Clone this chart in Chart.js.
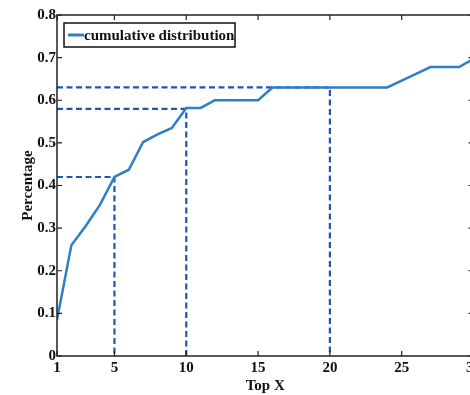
<!DOCTYPE html>
<html>
<head>
<meta charset="utf-8">
<script src="https://cdn.jsdelivr.net/npm/chart.js@4/dist/chart.umd.min.js"></script>
<style>
  html, body { margin: 0; padding: 0; background: #fff; overflow: hidden; }
  #wrap { width: 484px; height: 395px; }
</style>
</head>
<body>
<div id="wrap"><canvas id="cdfChart" width="484" height="395"></canvas></div>
<script>
// top-X positions and cumulative share
var topX = [1, 2, 3, 4, 5, 6, 7, 8, 9, 10, 11, 12, 13, 14, 15, 16, 17, 18, 19, 20,
    21, 22, 23, 24, 25, 26, 27, 28, 29, 30];
var cumulative = [0.085, 0.26, 0.305, 0.355, 0.42, 0.437, 0.502, 0.52, 0.535, 0.582,
    0.582, 0.60, 0.60, 0.60, 0.60, 0.63, 0.63, 0.63, 0.63, 0.63,
    0.63, 0.63, 0.63, 0.63, 0.646, 0.662, 0.678, 0.678, 0.678, 0.697];
// dashed guide markers: x position and the value at it
var markerX = [5, 10, 20];
var markerY = [0.42, 0.58, 0.63];
var xTicks = [1, 5, 10, 15, 20, 25, 30];
var yTicks = [0, 0.1, 0.2, 0.3, 0.4, 0.5, 0.6, 0.7, 0.8];

var serif = "'Liberation Serif', 'Times New Roman', serif";
var lineBlue = '#2f7fc7';
var dashBlue = '#2554b0';

var datasets = [{
    label: 'cumulative distribution',
    data: topX.map(function (x, i) { return { x: x, y: cumulative[i] }; }),
    borderColor: lineBlue,
    borderWidth: 2.5,
    pointRadius: 0,
    tension: 0,
    fill: false,
    order: 0
}];
markerX.forEach(function (mx, i) {
    datasets.push({
        label: 'guide' + i,
        data: [{ x: topX[0], y: markerY[i] }, { x: mx, y: markerY[i] }, { x: mx, y: 0 }],
        borderColor: dashBlue,
        borderWidth: 2.2,
        borderDash: [6, 3.5],
        pointRadius: 0,
        tension: 0,
        fill: false,
        order: 1
    });
});

// box, inward ticks and the boxed legend, MATLAB style
var frame = {
    id: 'frame',
    afterDatasetsDraw: function (chart) {
        var c = chart.ctx, a = chart.chartArea;
        var xs = chart.scales.x, ys = chart.scales.y;
        c.save();
        c.strokeStyle = '#222';
        c.lineWidth = 1.5;
        c.strokeRect(a.left, a.top, a.right - a.left, a.bottom - a.top);
        c.lineWidth = 1.2;
        c.beginPath();
        xTicks.forEach(function (v) {
            var px = xs.getPixelForValue(v);
            c.moveTo(px, a.bottom); c.lineTo(px, a.bottom - 5);
            c.moveTo(px, a.top); c.lineTo(px, a.top + 5);
        });
        yTicks.forEach(function (v) {
            var py = ys.getPixelForValue(v);
            c.moveTo(a.left, py); c.lineTo(a.left + 5, py);
            c.moveTo(a.right, py); c.lineTo(a.right - 5, py);
        });
        c.stroke();

        // legend
        var lx = a.left + 7, ly = a.top + 8, lw = 171, lh = 24;
        c.fillStyle = '#fff';
        c.fillRect(lx, ly, lw, lh);
        c.strokeStyle = '#111';
        c.lineWidth = 1.5;
        c.strokeRect(lx, ly, lw, lh);
        c.strokeStyle = lineBlue;
        c.lineWidth = 3;
        c.beginPath();
        c.moveTo(lx + 4, ly + lh / 2);
        c.lineTo(lx + 20, ly + lh / 2);
        c.stroke();
        c.fillStyle = '#111';
        c.font = 'bold 15px ' + serif;
        c.textBaseline = 'middle';
        c.fillText(chart.data.datasets[0].label, lx + 20, ly + lh / 2 + 1);
        c.restore();
    }
};

var ctx = document.getElementById('cdfChart').getContext('2d');
var cdfChart = new Chart(ctx, {
    type: 'line',
    data: { datasets: datasets },
    options: {
        responsive: false,
        animation: false,
        layout: { padding: { top: 15, right: 8, left: 0, bottom: 0 } },
        scales: {
            x: {
                type: 'linear',
                min: 1,
                max: 30,
                afterBuildTicks: function (scale) {
                    scale.ticks = xTicks.map(function (v) { return { value: v }; });
                },
                afterFit: function (scale) { scale.height = 39; },
                grid: { display: false, drawTicks: false },
                border: { display: false },
                ticks: {
                    padding: 3,
                    maxRotation: 0,
                    autoSkip: false,
                    color: '#111',
                    font: { family: serif, size: 15, weight: 'bold' }
                },
                title: {
                    display: true,
                    text: 'Top X',
                    color: '#111',
                    padding: 0,
                    font: { family: serif, size: 15, weight: 'bold' }
                }
            },
            y: {
                min: 0,
                max: 0.8,
                afterBuildTicks: function (scale) {
                    scale.ticks = yTicks.map(function (v) { return { value: v }; });
                },
                afterFit: function (scale) { scale.width = 57; },
                grid: { display: false, drawTicks: false },
                border: { display: false },
                ticks: {
                    padding: 1,
                    autoSkip: false,
                    color: '#111',
                    font: { family: serif, size: 15, weight: 'bold' },
                    callback: function (v) { return v === 0 ? '0' : v.toFixed(1); }
                },
                title: {
                    display: true,
                    text: 'Percentage',
                    color: '#111',
                    padding: { top: 19, bottom: 0 },
                    font: { family: serif, size: 15, weight: 'bold' }
                }
            }
        },
        plugins: {
            legend: { display: false },
            tooltip: { enabled: false }
        }
    },
    plugins: [frame]
});
</script>
</body>
</html>
